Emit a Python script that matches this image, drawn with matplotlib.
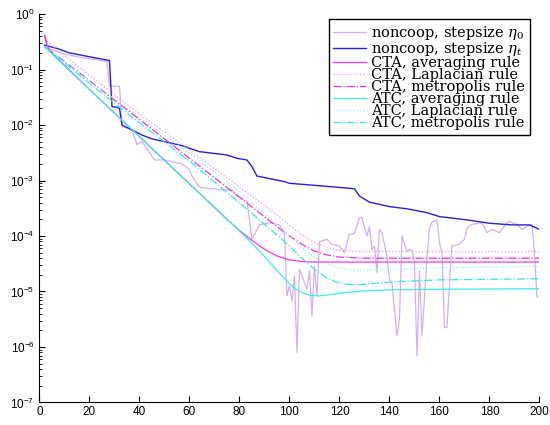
import numpy as np
import matplotlib
matplotlib.use("Agg")
import matplotlib.pyplot as plt
from matplotlib.font_manager import FontProperties
from matplotlib.ticker import NullFormatter

plt.rcParams['font.family'] = ['Liberation Sans', 'DejaVu Sans']

# values, stored as log10(error)
eta0_x = [2, 10, 16, 22, 27, 28, 32, 33, 37, 39, 41, 44, 46, 50, 57, 60, 61, 64, 73, 77,
          79, 83, 85, 88, 92, 96, 98, 99, 100, 101, 102, 103, 104, 105, 107, 108, 109, 110,
          111, 112, 115, 117, 120, 122, 124, 126, 128, 129, 131, 132, 133, 134, 135, 136,
          137, 139, 140, 141, 143, 144, 145, 147, 148, 149, 150, 151, 152, 153, 155, 156,
          157, 159, 160, 161, 162, 163, 164, 165, 168, 170, 171, 173, 177, 179, 181, 184,
          187, 188, 191, 193, 195, 197, 198, 199, 200]
eta0_log = [-0.60, -0.72, -0.78, -0.82, -0.86, -1.30, -1.30, -2.02, -2.09, -2.35, -2.30,
            -2.50, -2.63, -2.63, -2.70, -2.80, -2.92, -3.12, -3.17, -3.17, -3.27, -3.38,
            -4.06, -3.80, -3.76, -3.80, -3.95, -5.08, -4.90, -5.17, -4.72, -6.10, -4.60,
            -4.72, -4.96, -4.63, -5.44, -4.55, -5.08, -4.10, -4.06, -4.15, -4.18, -4.30,
            -3.97, -3.95, -3.67, -3.67, -4.00, -3.83, -4.24, -4.18, -4.66, -3.88, -3.94,
            -4.36, -4.78, -4.84, -5.80, -5.50, -4.00, -4.28, -4.24, -4.26, -4.48, -6.16,
            -4.63, -5.80, -4.42, -3.85, -3.75, -3.71, -4.12, -4.30, -5.65, -5.65, -4.90,
            -4.18, -4.15, -4.06, -3.86, -3.79, -3.76, -3.94, -3.88, -3.94, -3.76, -3.74,
            -3.79, -3.88, -3.83, -3.79, -4.30, -5.10, -5.10]

etat_x = [2, 7, 12, 20, 27, 28, 29, 31, 32, 33, 37, 41, 45, 51, 57, 60, 64, 75, 79, 83,
          85, 87, 98, 100, 124, 126, 128, 132, 140, 147, 155, 160, 171, 180, 189, 196, 198, 200]
etat_log = [-0.56, -0.62, -0.70, -0.77, -0.83, -0.84, -1.67, -1.68, -1.70, -2.00, -2.09,
            -2.18, -2.25, -2.31, -2.37, -2.42, -2.48, -2.54, -2.60, -2.63, -2.75, -2.92,
            -3.02, -3.05, -3.14, -3.15, -3.28, -3.39, -3.47, -3.51, -3.58, -3.65, -3.71,
            -3.77, -3.80, -3.80, -3.84, -3.88]

cta_avg_x = [2, 3, 4, 20, 40, 60, 75, 80, 85, 90, 95, 100, 105, 110, 120, 200]
cta_avg_log = [-0.38, -0.56, -0.66, -1.36, -2.21, -3.06, -3.70, -3.90, -4.08, -4.24,
               -4.36, -4.43, -4.46, -4.47, -4.47, -4.47]

cta_lap_x = [2, 3, 20, 40, 60, 80, 95, 100, 105, 110, 115, 120, 130, 200]
cta_lap_log = [-0.38, -0.50, -1.10, -1.80, -2.45, -3.12, -3.62, -3.80, -3.98, -4.12,
               -4.21, -4.26, -4.28, -4.28]

cta_met_x = [2, 3, 4, 20, 40, 60, 80, 95, 100, 105, 110, 115, 120, 130, 200]
cta_met_log = [-0.38, -0.55, -0.65, -1.20, -1.90, -2.60, -3.30, -3.83, -4.00, -4.15,
               -4.27, -4.34, -4.38, -4.40, -4.40]

atc_avg_x = [2, 20, 40, 60, 70, 80, 85, 90, 95, 100, 104, 108, 112, 116, 120, 130, 140, 160, 200]
atc_avg_log = [-0.59, -1.36, -2.21, -3.06, -3.48, -3.91, -4.13, -4.37, -4.62, -4.86,
               -5.00, -5.07, -5.08, -5.06, -5.03, -4.99, -4.97, -4.96, -4.95]

atc_lap_x = [2, 20, 40, 60, 80, 95, 100, 105, 110, 115, 120, 125, 130, 140, 160, 200]
atc_lap_log = [-0.59, -1.20, -1.86, -2.50, -3.20, -3.80, -4.00, -4.20, -4.38, -4.50,
               -4.58, -4.62, -4.62, -4.60, -4.57, -4.55]

atc_met_x = [2, 20, 40, 60, 80, 95, 100, 105, 110, 115, 120, 125, 130, 140, 160, 200]
atc_met_log = [-0.59, -1.25, -1.96, -2.65, -3.40, -3.98, -4.18, -4.40, -4.60, -4.76,
               -4.85, -4.88, -4.87, -4.83, -4.79, -4.77]

labels = [r'noncoop, stepsize $\eta_0$', r'noncoop, stepsize $\eta_t$',
          'CTA, averaging rule', 'CTA, Laplacian rule', 'CTA, metropolis rule',
          'ATC, averaging rule', 'ATC, Laplacian rule', 'ATC, metropolis rule']

fig = plt.figure(figsize=(5.5, 4.25), dpi=100)
ax = fig.add_axes([0.0718, 0.053, 0.909, 0.914])

ax.plot(eta0_x, 10.0 ** np.array(eta0_log), color='#d2b0f7', lw=0.9, label=labels[0])
ax.plot(etat_x, 10.0 ** np.array(etat_log), color='#2323e2', lw=1.0, label=labels[1])
ax.plot(cta_avg_x, 10.0 ** np.array(cta_avg_log), color='#f33cf3', lw=0.9, label=labels[2])
ax.plot(cta_lap_x, 10.0 ** np.array(cta_lap_log), color='#ff8cff', lw=0.9, ls=':', label=labels[3])
ax.plot(cta_met_x, 10.0 ** np.array(cta_met_log), color='#f52cf5', lw=0.9, ls='-.', label=labels[4])
ax.plot(atc_avg_x, 10.0 ** np.array(atc_avg_log), color='#38eeee', lw=0.9, label=labels[5])
ax.plot(atc_lap_x, 10.0 ** np.array(atc_lap_log), color='#7ff7f7', lw=0.9, ls=':', label=labels[6])
ax.plot(atc_met_x, 10.0 ** np.array(atc_met_log), color='#36e6ee', lw=0.9, ls='-.', label=labels[7])

ax.set_yscale('log')
ax.set_xlim(0, 200)
ax.set_ylim(1e-7, 1)
ax.set_xticks(np.arange(0, 201, 20))
ax.yaxis.set_minor_formatter(NullFormatter())
ax.spines['top'].set_visible(False)
ax.spines['right'].set_visible(False)
ax.tick_params(which='both', direction='in', labelsize=8.5)
ax.tick_params(which='major', length=4, width=0.8)
ax.tick_params(which='minor', length=2, width=0.6)
ax.tick_params(axis='x', pad=2.5)

leg_font = FontProperties(family='DejaVu Serif', size=10.5, math_fontfamily='dejavuserif')
leg = ax.legend(loc='upper right', bbox_to_anchor=(0.981, 0.987), borderaxespad=0,
                prop=leg_font, fancybox=False, framealpha=1, edgecolor='black',
                handlelength=2.26, handletextpad=0.35, labelspacing=-0.13, borderpad=0.32)
leg.get_frame().set_linewidth(1.0)

fig.savefig('out.png', dpi=100)
